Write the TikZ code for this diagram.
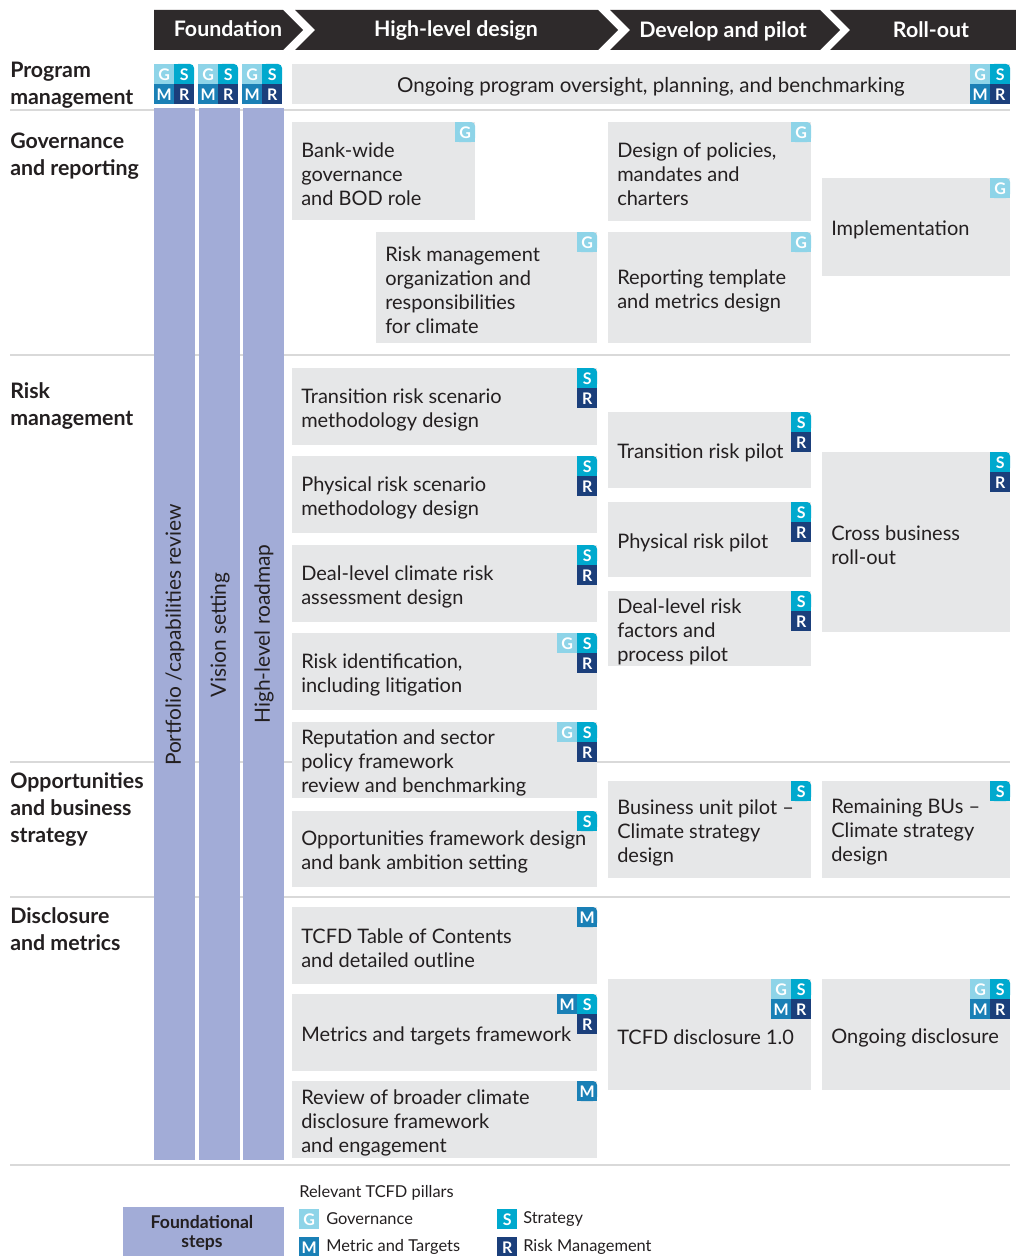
\documentclass[tikz,border=0pt]{standalone}
\usepackage{fontspec}
\setmainfont{Lato}
\definecolor{headdark}{HTML}{2E2A2B}
\definecolor{boxgray}{HTML}{E6E7E8}
\definecolor{found}{HTML}{A2ACD7}
\definecolor{rulegray}{HTML}{D9D9D9}
\definecolor{ink}{HTML}{231F20}
\definecolor{pilG}{HTML}{8ED4E8}
\definecolor{pilS}{HTML}{00A9CE}
\definecolor{pilM}{HTML}{1A80B6}
\definecolor{pilR}{HTML}{1B3F7B}
% one pillar square: name, x, y (top left), letter
\newcommand{\cell}[4]{\node[pil, fill=pil#4] (#1) at (#2,#3) {#4};}
% same, with the rounded top right corner
\newcommand{\rcell}[4]{%
  \fill[pil#4, rounded corners=3pt] (#2,#3) rectangle ++(20,20);
  \fill[pil#4] (#2,#3+6) rectangle ++(20,14);
  \fill[pil#4] (#2,#3) rectangle ++(14,20);
  \node[pil] (#1) at (#2,#3) {#4};}
% full G S / M R block
\newcommand{\gsmr}[3]{%
  \cell{#1G}{#2}{#3}{G}\rcell{#1S}{#2+20}{#3}{S}%
  \cell{#1M}{#2}{#3+20}{M}\cell{#1R}{#2+20}{#3+20}{R}}
% grey task box: name, x1, y1, x2, y2, text
\newcommand{\taskbox}[6]{%
  \fill[boxgray] (#2,#3) rectangle (#4,#5);
  \node[tasktext] (#1) at (#2+9,{(#3+#5)/2+3}) {#6};}
\begin{document}
\begin{tikzpicture}[x=0.75pt, y=-0.75pt,
  pil/.style={anchor=north west, minimum size=15pt, inner sep=0pt, text=white, font=\bfseries\fontsize{12}{12}\selectfont},
  tasktext/.style={anchor=west, align=left, inner sep=0pt, text=ink, font=\fontsize{15}{18}\selectfont},
  rowlabel/.style={anchor=west, align=left, inner sep=0pt, text=ink, font=\bfseries\fontsize{16}{20.25}\selectfont},
  phase/.style={text=white, inner sep=0pt, text height=11.5pt, text depth=0pt, font=\bfseries\fontsize{16}{18}\selectfont},
  steplabel/.style={rotate=90, text=ink, font=\fontsize{15.7}{18}\selectfont},
  legendtext/.style={anchor=west, inner sep=0pt, text=ink, font=\fontsize{12.3}{14}\selectfont}]
\useasboundingbox (0,0) rectangle (1016,1256);

% phases
\fill[headdark] (154,10) -- (283,10) -- (303,30) -- (283,50) -- (154,50) -- cycle;
\fill[headdark] (295,10) -- (598,10) -- (618,30) -- (598,50) -- (295,50) -- (315,30) -- cycle;
\fill[headdark] (610,10) -- (820,10) -- (840,30) -- (820,50) -- (610,50) -- (630,30) -- cycle;
\fill[headdark] (830,10) -- (1016,10) -- (1016,50) -- (830,50) -- (850,30) -- cycle;
\node[phase] (hfound) at (228,29) {Foundation};
\node[phase] (hdesign) at (456,29) {High-level design};
\node[phase] (hpilot) at (723,30) {Develop and pilot};
\node[phase] (hroll) at (931,30) {Roll-out};

% row rules
\foreach \y in {110,355,762,897,1165}
  \draw[rulegray, line width=1.5pt] (10,\y) -- (1010,\y);

% row labels
\node[rowlabel] (lprog) at (10,85) {Program\\management};
\node[rowlabel] (lgov) at (10,156) {Governance\\and reporting};
\node[rowlabel] (lrisk) at (10,406) {Risk\\management};
\node[rowlabel] (lopp) at (10,809) {Opportunities\\and business\\strategy};
\node[rowlabel] (ldisc) at (10,929) {Disclosure\\and metrics};

% foundational steps
\fill[found] (154,108) rectangle (195,1160);
\fill[found] (199,108) rectangle (240,1160);
\fill[found] (243,108) rectangle (284,1160);
\node[steplabel] (sportfolio) at (175,635) {Portfolio /capabilities review};
\node[steplabel] (svision) at (220,635) {Vision setting};
\node[steplabel] (sroadmap) at (264,634) {High-level roadmap};

% program management
\gsmr{pa}{154}{64}
\gsmr{pb}{198}{64}
\gsmr{pc}{242}{64}
\fill[boxgray] (292,64) rectangle (1010,104);
\node[tasktext, anchor=center, font=\fontsize{15.4}{18}\selectfont] (oversight) at (651,87) {Ongoing program oversight, planning, and benchmarking};
\gsmr{pd}{970}{64}

% governance and reporting
\taskbox{bank}{292}{122}{475}{220}{Bank-wide\\governance\\and BOD role}
\rcell{bankG}{455}{122}{G}
\taskbox{rmorg}{376}{232}{597}{343}{Risk management\\organization and\\responsibilities\\for climate}
\rcell{rmorgG}{577}{232}{G}
\taskbox{policy}{608}{122}{811}{221}{Design of policies,\\mandates and\\charters}
\rcell{policyG}{791}{122}{G}
\taskbox{report}{608}{232}{811}{343}{Reporting template\\and metrics design}
\rcell{reportG}{791}{232}{G}
\taskbox{impl}{822}{178}{1010}{276}{Implementation}
\rcell{implG}{990}{178}{G}

% risk management
\taskbox{trsm}{292}{368}{597}{445}{Transition risk scenario\\methodology design}
\rcell{trsmS}{577}{368}{S}\cell{trsmR}{577}{388}{R}
\taskbox{prsm}{292}{456}{597}{533}{Physical risk scenario\\methodology design}
\rcell{prsmS}{577}{456}{S}\cell{prsmR}{577}{476}{R}
\taskbox{dlcr}{292}{545}{597}{622}{Deal-level climate risk\\assessment design}
\rcell{dlcrS}{577}{545}{S}\cell{dlcrR}{577}{565}{R}
\taskbox{riskid}{292}{633}{597}{710}{Risk identification,\\including litigation}
\cell{riskidG}{557}{633}{G}\rcell{riskidS}{577}{633}{S}\cell{riskidR}{577}{653}{R}
\taskbox{reput}{292}{722}{597}{798}{Reputation and sector\\policy framework\\review and benchmarking}
\cell{reputG}{557}{722}{G}\rcell{reputS}{577}{722}{S}\cell{reputR}{577}{742}{R}
\taskbox{trpilot}{608}{412}{811}{488}{Transition risk pilot}
\rcell{trpilotS}{791}{412}{S}\cell{trpilotR}{791}{432}{R}
\taskbox{phpilot}{608}{502}{811}{577}{Physical risk pilot}
\rcell{phpilotS}{791}{502}{S}\cell{phpilotR}{791}{522}{R}
\taskbox{dlpilot}{608}{591}{811}{666}{Deal-level risk\\factors and\\process pilot}
\rcell{dlpilotS}{791}{591}{S}\cell{dlpilotR}{791}{611}{R}
\taskbox{cross}{822}{452}{1010}{632}{Cross business\\roll-out}
\rcell{crossS}{990}{452}{S}\cell{crossR}{990}{472}{R}

% opportunities and business strategy
\taskbox{oppfw}{292}{811}{597}{887}{Opportunities framework design\\and bank ambition setting}
\rcell{oppfwS}{577}{811}{S}
\taskbox{bupilot}{608}{781}{811}{878}{Business unit pilot --\\Climate strategy\\design}
\rcell{bupilotS}{791}{781}{S}
\taskbox{remain}{822}{781}{1010}{878}{Remaining BUs --\\Climate strategy\\design}
\rcell{remainS}{990}{781}{S}

% disclosure and metrics
\taskbox{toc}{292}{907}{597}{984}{TCFD Table of Contents\\and detailed outline}
\rcell{tocM}{577}{907}{M}
\taskbox{metfw}{292}{994}{597}{1071}{Metrics and targets framework}
\cell{metfwM}{557}{994}{M}\rcell{metfwS}{577}{994}{S}\cell{metfwR}{577}{1014}{R}
\taskbox{review}{292}{1081}{597}{1158}{Review of broader climate\\disclosure framework\\and engagement}
\rcell{reviewM}{577}{1081}{M}
\taskbox{tcfd}{608}{979}{811}{1090}{TCFD disclosure 1.0}
\gsmr{tcfd}{771}{979}
\taskbox{ongoing}{822}{979}{1010}{1090}{Ongoing disclosure}
\gsmr{ongo}{970}{979}

% legend
\fill[found] (123,1207) rectangle (284,1256);
\node[align=center, text=ink, font=\bfseries\fontsize{13.2}{14.5}\selectfont] (lfound) at (202,1233) {Foundational\\steps};
\node[legendtext] (lpillars) at (299,1193) {Relevant TCFD pillars};
\cell{legG}{299}{1209}{G}
\node[legendtext] (lgovtext) at (326,1219) {Governance};
\cell{legM}{299}{1237}{M}
\node[legendtext] (lmettext) at (326,1247) {Metric and Targets};
\cell{legS}{497}{1209}{S}
\node[legendtext] (lstrtext) at (523,1219) {Strategy};
\cell{legR}{497}{1237}{R}
\node[legendtext] (lrisktext) at (523,1247) {Risk Management};
\end{tikzpicture}
\end{document}
